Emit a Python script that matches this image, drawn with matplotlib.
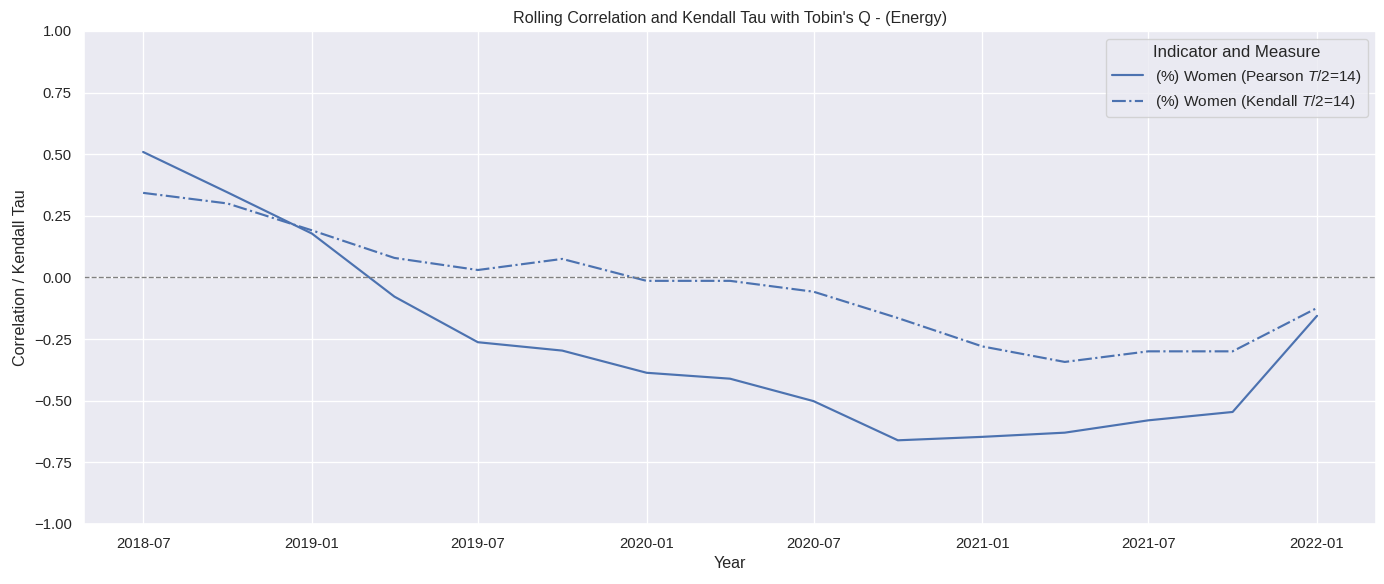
import pandas as pd
import numpy as np
import matplotlib
matplotlib.use("Agg")
import matplotlib.pyplot as plt
import seaborn as sns

# quarterly rolling values
dates = pd.to_datetime(["2018-07-01", "2018-10-01", "2019-01-01", "2019-04-01",
                        "2019-07-01", "2019-10-01", "2020-01-01", "2020-04-01",
                        "2020-07-01", "2020-10-01", "2021-01-01", "2021-04-01",
                        "2021-07-01", "2021-10-01", "2022-01-01"])
pearson = [0.509, 0.345, 0.178, -0.078, -0.263, -0.297, -0.387, -0.411,
           -0.502, -0.661, -0.647, -0.630, -0.580, -0.546, -0.156]
kendall = [0.343, 0.300, 0.191, 0.079, 0.030, 0.075, -0.014, -0.014,
           -0.058, -0.165, -0.280, -0.343, -0.300, -0.300, -0.124]

sns.set_theme(style="darkgrid")
plt.rcParams['font.family'] = ['Liberation Sans', 'DejaVu Sans']
plt.rcParams['mathtext.fontset'] = 'custom'
plt.rcParams['mathtext.it'] = 'Liberation Sans:italic'
plt.rcParams['mathtext.rm'] = 'Liberation Sans'

dpi = 97
fig, ax = plt.subplots(figsize=(1384 / dpi, 584 / dpi), dpi=dpi)
col = sns.color_palette()[0]
ax.plot(dates, pearson, color=col, linestyle='-', linewidth=1.6,
        label='(%) Women (Pearson $T/2$=14)')
ax.plot(dates, kendall, color=col, linestyle='-.', linewidth=1.6,
        label='(%) Women (Kendall $T/2$=14)')
ax.axhline(0, color='gray', linestyle='--', linewidth=1)

ax.set_ylim(-1, 1)
ax.set_title("Rolling Correlation and Kendall Tau with Tobin's Q - (Energy)")
ax.set_xlabel("Year")
ax.set_ylabel("Correlation / Kendall Tau")
ax.legend(title="Indicator and Measure", loc='upper right',
          fontsize=11.45, title_fontsize=12.4)

plt.subplots_adjust(left=0.061, right=0.994, top=0.947, bottom=0.103)
plt.savefig("out.png", dpi=dpi)
